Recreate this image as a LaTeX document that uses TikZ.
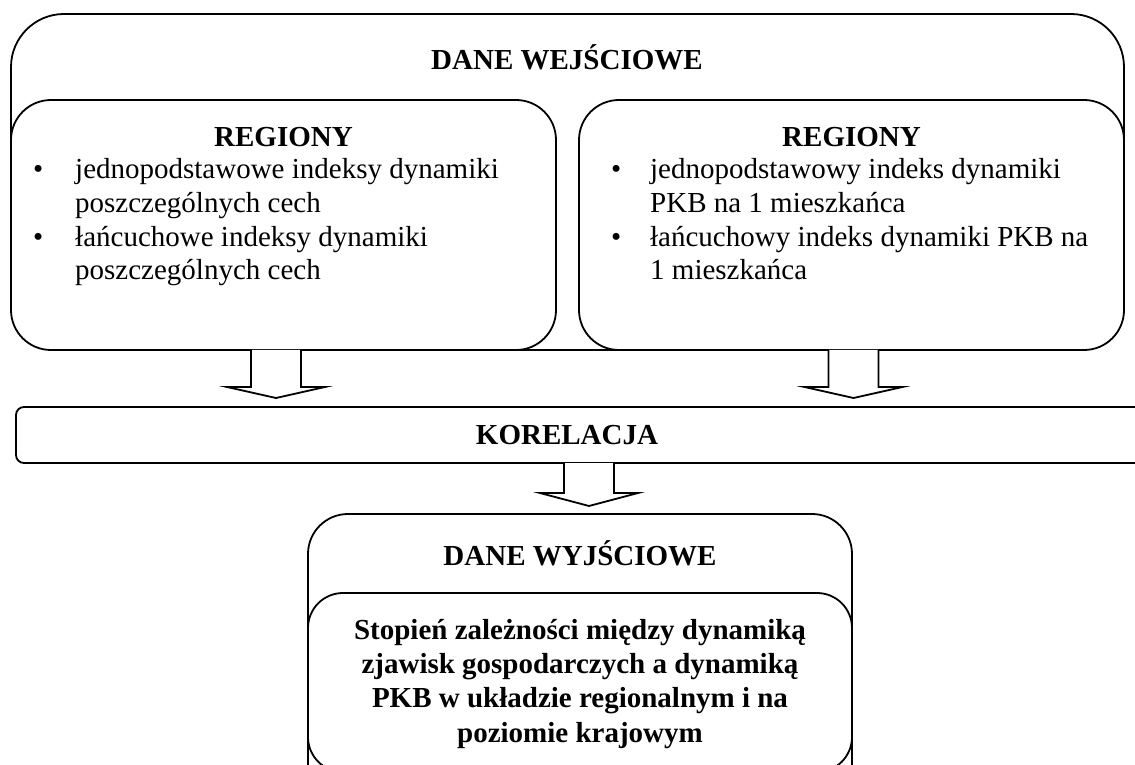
\documentclass[tikz,border=0pt]{standalone}
\usepackage{fontspec}
\setmainfont{Liberation Serif}
\usetikzlibrary{calc}
\begin{document}
\begin{tikzpicture}[x=1pt,y=1pt,
  boxline/.style={draw=black,line width=1.8pt,fill=white},
  arrowline/.style={draw=black,line width=1.8pt,fill=white,line join=miter},
  head/.style={font=\fontsize{29}{34}\selectfont\bfseries,inner sep=0pt},
  body/.style={font=\fontsize{29}{33.7}\selectfont,inner sep=0pt,align=left,anchor=base west},
  result/.style={font=\fontsize{29}{34.3}\selectfont\bfseries,inner sep=0pt,align=center}]
\useasboundingbox (0,0) rectangle (1135,764);
\clip (0,0) rectangle (1135,764);

% input data: outer frame and the two region panels
\draw[boxline,rounded corners=53pt] (11,750) rectangle (1124,414);
\draw[boxline,rounded corners=40pt] (11,664) rectangle (556,414);
\draw[boxline,rounded corners=40pt] (579,664) rectangle (1124,414);
\node[head] (inTitle) at (567,707) {DANE WEJŚCIOWE};
\node[head] (regL) at (283.5,627) {REGIONY};
\node[head] (regR) at (851.5,627) {REGIONY};

% the base anchor of a multi-line node sits on its last line
\node[body] (listL) at (33,484) {%
  \makebox[42pt][l]{\textbullet}jednopodstawowe indeksy dynamiki\\
  \hspace*{42pt}poszczególnych cech\\
  \makebox[42pt][l]{\textbullet}łańcuchowe indeksy dynamiki\\
  \hspace*{42pt}poszczególnych cech};
\node[body] (listR) at (611,484) {%
  \makebox[39pt][l]{\textbullet}jednopodstawowy indeks dynamiki\\
  \hspace*{39pt}PKB na 1 mieszkańca\\
  \makebox[39pt][l]{\textbullet}łańcuchowy indeks dynamiki PKB na\\
  \hspace*{39pt}1 mieszkańca};

% correlation band
\draw[boxline,rounded corners=8pt] (16,357) rectangle (1160,301);
\node[head] (kor) at (567,329) {KORELACJA};

% output data
\draw[boxline,rounded corners=40pt] (308,250) rectangle (852,-60);
\draw[boxline,rounded corners=35pt] (308,171) rectangle (852,-8);
\node[head] (outTitle) at (580,211) {DANE WYJŚCIOWE};
\node[result,anchor=base] (res) at (580,22) {%
  Stopień zależności między dynamiką\\
  zjawisk gospodarczych a dynamiką\\
  PKB w układzie regionalnym i na\\
  poziomie krajowym};

% block arrows: start on the lower edge, tip above the next box
\coordinate (a1s) at (276,414);  \coordinate (a1t) at (276,366);
\coordinate (a2s) at (853.5,414);\coordinate (a2t) at (853.5,366);
\coordinate (a3s) at (589,301);  \coordinate (a3t) at (589,258);
\foreach \s/\t/\h in {a1s/a1t/11,a2s/a2t/11,a3s/a3t/13}{
  \draw[arrowline] let \p1=(\s), \p2=(\t) in
    (\x1-25,\y1) -- (\x1-25,\y2+\h) -- (\x1-49,\y2+\h) -- (\x2,\y2)
    -- (\x1+49,\y2+\h) -- (\x1+25,\y2+\h) -- (\x1+25,\y1);
}
\end{tikzpicture}
\end{document}
